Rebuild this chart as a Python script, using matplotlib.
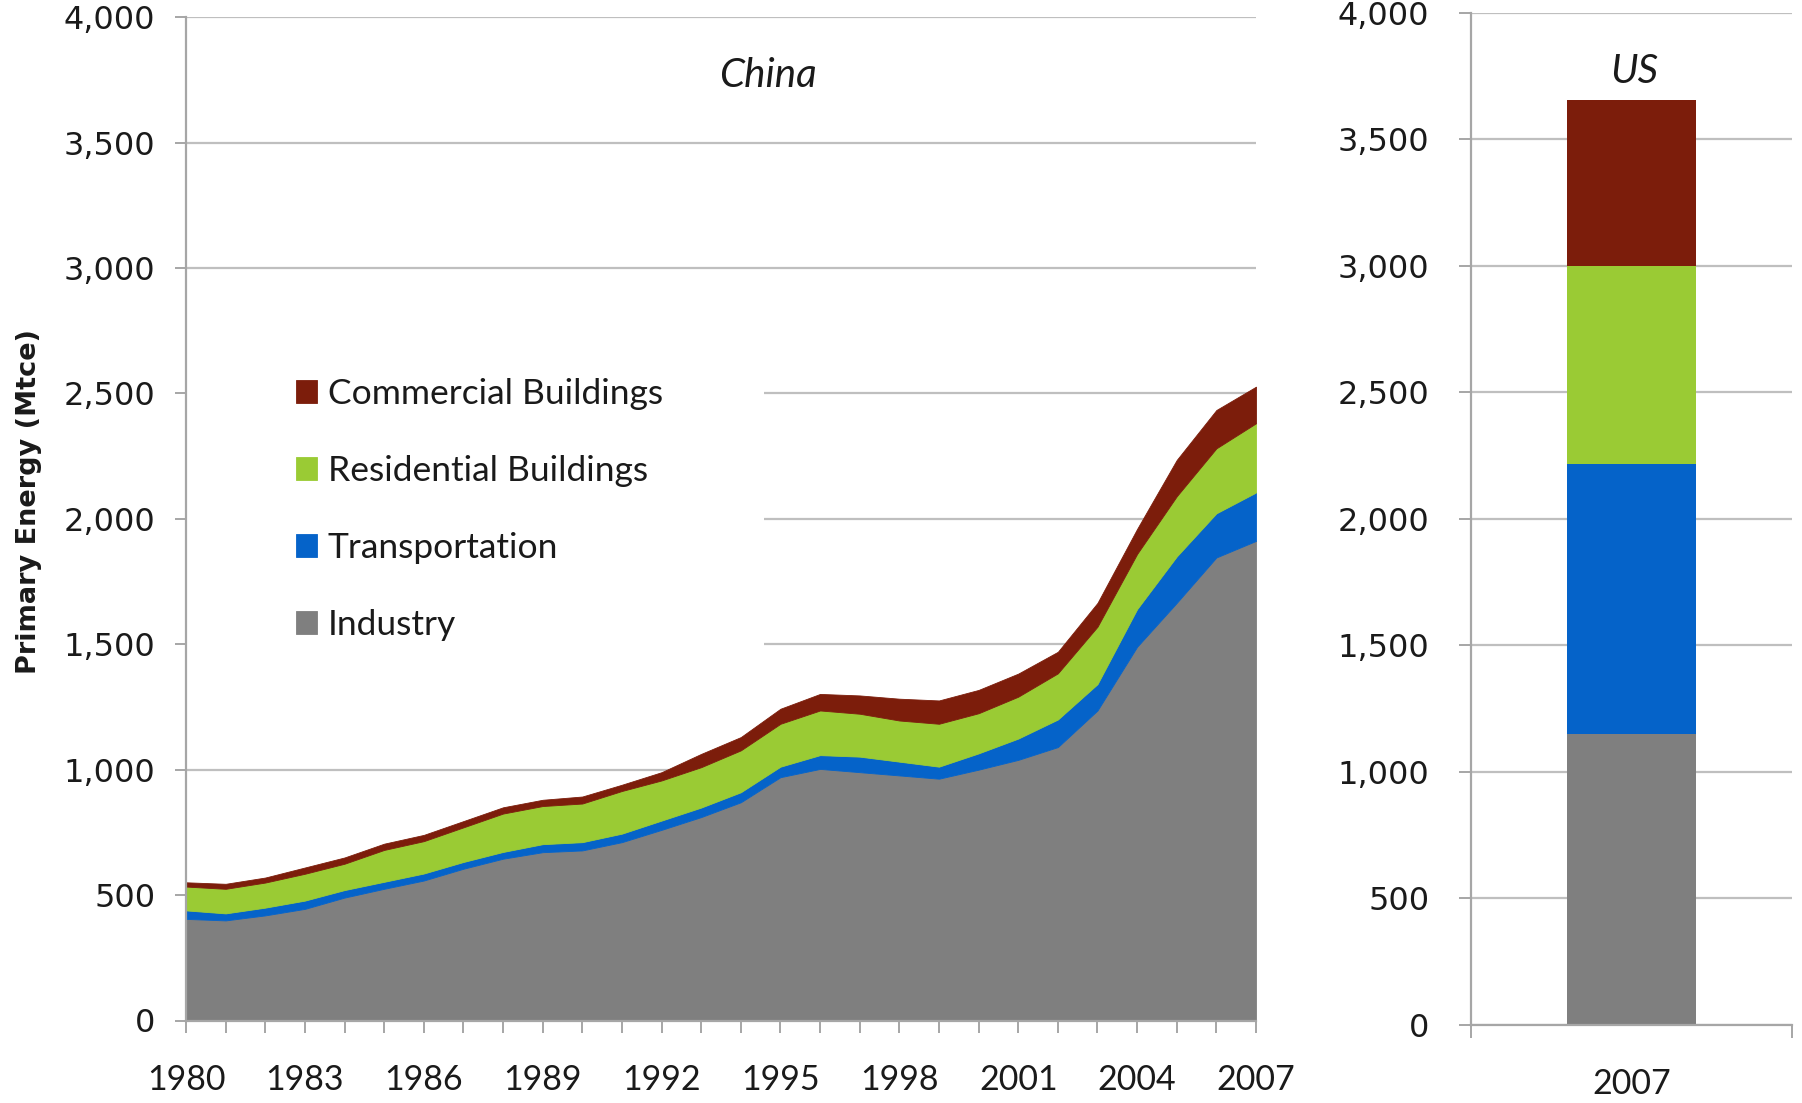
import matplotlib
matplotlib.use("Agg")
import matplotlib.pyplot as plt
from matplotlib.patches import Rectangle
from matplotlib.ticker import StrMethodFormatter, MultipleLocator

# China primary energy by sector, Mtce
years = list(range(1980, 2008))
industry = [405, 399, 419, 445, 490, 525, 558, 605, 645, 671, 678, 711, 760, 811,
            870, 970, 1003, 990, 977, 964, 1000, 1039, 1090, 1236, 1490, 1665, 1846, 1912]
transport = [34, 28, 31, 33, 30, 28, 28, 27, 27, 32, 33, 34, 37, 38,
             40, 42, 55, 62, 55, 48, 65, 85, 110, 105, 150, 185, 176, 193]
residential = [95, 98, 100, 107, 105, 127, 129, 138, 153, 152, 154, 170, 160, 161,
               167, 171, 178, 171, 164, 171, 160, 167, 184, 229, 220, 240, 259, 276]
commercial = [17, 20, 20, 25, 25, 25, 25, 25, 25, 25, 28, 25, 33, 53,
              53, 60, 66, 73, 87, 93, 93, 92, 86, 95, 100, 145, 153, 146]

# US 2007, Mtce
us_label = ["2007"]
us_industry = [1147]
us_transport = [1070]
us_residential = [783]
us_commercial = [656]

sectors = ["Industry", "Transportation", "Residential Buildings", "Commercial Buildings"]
colors = ["#7F7F7F", "#0563C9", "#9ACB34", "#7C1D0B"]

grid_c = "#BFBFBF"
spine_c = "#A6A6A6"
text_c = "#1A1A1A"
tick_font = "DejaVu Sans"
label_font = "Lato"

fig = plt.figure(figsize=(18.02, 11.03), dpi=100)
ax = fig.add_axes([186 / 1802, 1 - 1020.5 / 1103, 1070 / 1802, 1003.3 / 1103])
ax2 = fig.add_axes([1471 / 1802, 1 - 1024.6 / 1103, 321 / 1802, 1012 / 1103])

# ---- China stacked area ----
polys = ax.stackplot(years, industry, transport, residential, commercial,
                     colors=colors, labels=sectors, edgecolor="face", linewidth=0.6)
ax.set_xlim(1980, 2007)
ax.set_ylim(0, 4000)
ax.set_axisbelow(True)
ax.yaxis.grid(True, color=grid_c, linewidth=1.6)
ax.set_yticks(range(0, 4001, 500))
ax.yaxis.set_major_formatter(StrMethodFormatter("{x:,.0f}"))
ax.set_xticks(years[::3])
ax.xaxis.set_minor_locator(MultipleLocator(1))

for s in ["top", "right"]:
    ax.spines[s].set_visible(False)
for s in ["left", "bottom"]:
    ax.spines[s].set_color(spine_c)
    ax.spines[s].set_linewidth(1.6)

ax.tick_params(axis="y", which="major", direction="out", length=8, width=1.4,
               color=spine_c, pad=14, labelsize=23, labelcolor=text_c)
ax.tick_params(axis="x", which="both", direction="out", length=8.5, width=1.4,
               color=spine_c, pad=23, labelsize=24.5, labelcolor=text_c)
for lab in ax.get_yticklabels():
    lab.set_fontfamily(tick_font)
for lab in ax.get_xticklabels():
    lab.set_fontfamily(label_font)

# white box behind the legend hides the gridlines there
ax.add_patch(Rectangle((0, 0.31), 0.54, 0.375, transform=ax.transAxes,
                       facecolor="white", edgecolor="none", zorder=0.8))

handles = polys[::-1]
leg = ax.legend(handles, [p.get_label() for p in handles], loc="upper left",
                bbox_to_anchor=(0.086, 0.658), frameon=False, borderpad=0,
                handlelength=0.6, handleheight=0.6, handletextpad=0.3,
                labelspacing=1.27, prop={"family": label_font, "size": 25.5})
for t in leg.get_texts():
    t.set_color(text_c)

ax.text(0.544, 0.942, "China", transform=ax.transAxes, ha="center", va="center",
        fontsize=29, style="italic", family=label_font, color=text_c)

fig.text(29 / 1802, 1 - 502 / 1103, "Primary Energy (Mtce)", rotation=90,
         ha="center", va="center", fontsize=19.5, fontweight="bold",
         family="DejaVu Sans", color=text_c)

# ---- US 2007 stacked bar ----
bottom = 0
for vals, c in zip([us_industry, us_transport, us_residential, us_commercial], colors):
    ax2.bar([0], vals, bottom=bottom, width=0.4, color=c, zorder=2)
    bottom += vals[0]

ax2.set_xlim(-0.5, 0.5)
ax2.set_ylim(0, 4000)
ax2.set_axisbelow(True)
ax2.yaxis.grid(True, color=grid_c, linewidth=1.6)
ax2.set_yticks(range(0, 4001, 500))
ax2.yaxis.set_major_formatter(StrMethodFormatter("{x:,.0f}"))
ax2.set_xticks([0])
ax2.set_xticklabels(us_label)
ax2.set_xticks([-0.5, 0.5], minor=True)

for s in ["top", "right"]:
    ax2.spines[s].set_visible(False)
for s in ["left", "bottom"]:
    ax2.spines[s].set_color(spine_c)
    ax2.spines[s].set_linewidth(1.6)

ax2.tick_params(axis="y", direction="out", length=9, width=1.4, color=spine_c,
                pad=21, labelsize=23, labelcolor=text_c)
ax2.tick_params(axis="x", which="major", length=0, pad=31, labelsize=24.5,
                labelcolor=text_c)
ax2.tick_params(axis="x", which="minor", direction="out", length=9, width=1.4,
                color=spine_c)
for lab in ax2.get_yticklabels():
    lab.set_fontfamily(tick_font)
for lab in ax2.get_xticklabels():
    lab.set_fontfamily(label_font)

ax2.text(0.51, 0.942, "US", transform=ax2.transAxes, ha="center", va="center",
         fontsize=29, style="italic", family=label_font, color=text_c)

fig.savefig("out.png", dpi=100, facecolor="white")
